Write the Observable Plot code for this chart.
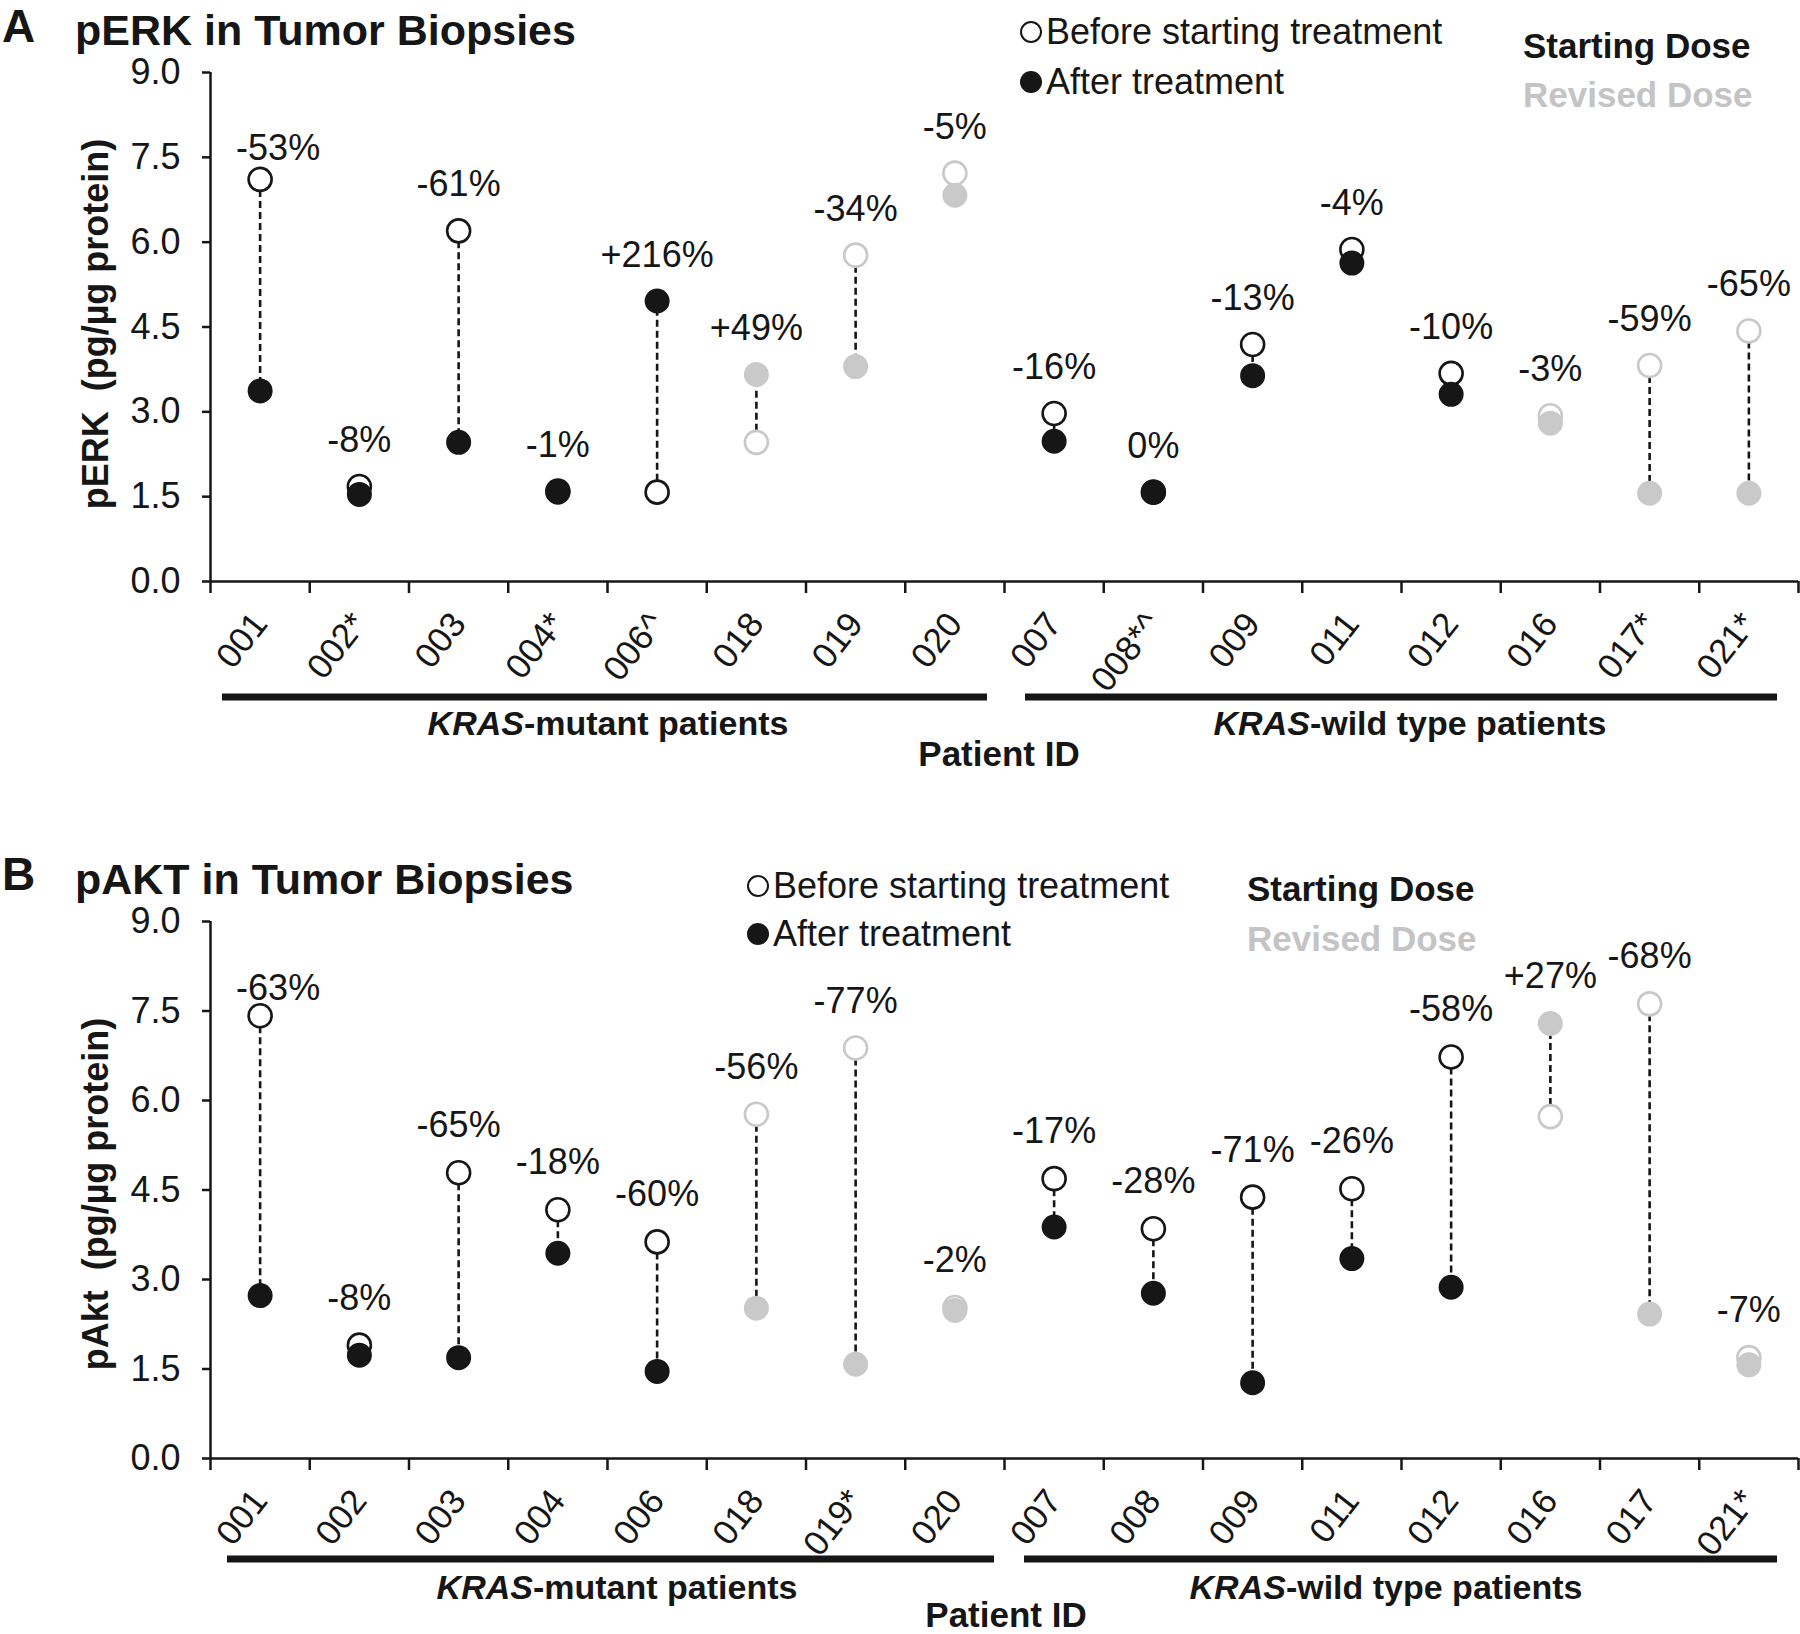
<!DOCTYPE html>
<html>
<head>
<meta charset="utf-8">
<script src="https://cdn.jsdelivr.net/npm/d3@7"></script>
<script src="https://cdn.jsdelivr.net/npm/@observablehq/plot@0.6"></script>
<style>
  html, body { margin: 0; padding: 0; background: #fff; }
  #root { width: 1800px; height: 1634px; overflow: hidden; background: #fff; }
  #root svg { display: block; }
</style>
</head>
<body>
<div id="root"></div>
<script>
// ---------- data ----------
const yTicks = [0, 1.5, 3, 4.5, 6, 7.5, 9];

const erkIds = ["001","002*","003","004*","006^","018","019","020","007","008*^","009","011","012","016","017*","021*"];
const erkBefore = [7.11, 1.68, 6.20, 1.60, 1.58, 2.46, 5.77, 7.22, 2.97, 1.58, 4.19, 5.87, 3.68, 2.93, 3.82, 4.43];
const erkAfter  = [3.37, 1.54, 2.46, 1.58, 4.96, 3.66, 3.80, 6.83, 2.48, 1.58, 3.64, 5.63, 3.31, 2.80, 1.56, 1.56];
const erkLabels = ["-53%","-8%","-61%","-1%","+216%","+49%","-34%","-5%","-16%","0%","-13%","-4%","-10%","-3%","-59%","-65%"];
const erkDose   = ["Starting","Starting","Starting","Starting","Starting","Revised","Revised","Revised","Starting","Starting","Starting","Starting","Starting","Revised","Revised","Revised"];

const aktIds = ["001","002","003","004","006","018","019*","020","007","008","009","011","012","016","017","021*"];
const aktBefore = [7.42, 1.90, 4.79, 4.17, 3.63, 5.77, 6.88, 2.53, 4.69, 3.85, 4.38, 4.52, 6.73, 5.73, 7.62, 1.69];
const aktAfter  = [2.73, 1.73, 1.69, 3.44, 1.46, 2.52, 1.58, 2.48, 3.88, 2.77, 1.27, 3.35, 2.87, 7.29, 2.42, 1.57];
const aktLabels = ["-63%","-8%","-65%","-18%","-60%","-56%","-77%","-2%","-17%","-28%","-71%","-26%","-58%","+27%","-68%","-7%"];
const aktDose   = ["Starting","Starting","Starting","Starting","Starting","Revised","Revised","Revised","Starting","Starting","Starting","Starting","Starting","Revised","Revised","Revised"];

const groups = ["KRAS|-mutant patients", "KRAS|-wild type patients"];
const groupSpans = [[0, 8], [8, 16]];

// ---------- style ----------
const FONT = "'Liberation Sans', Arial, Helvetica, sans-serif";
const BLACK = "#161616";
const GRAY = "#c9c9c9";
const LEGEND_GRAY = "#c4c4c4";

function panel(o) {
  const rows = o.ids.map((id, i) => ({
    xc: i + 0.5, id,
    before: o.before[i], after: o.after[i],
    top: Math.max(o.before[i], o.after[i]),
    label: o.labels[i],
    color: o.dose[i] === "Starting" ? BLACK : GRAY
  }));
  const W = 1800, ML = 210, MR = 2;
  const plot = Plot.plot({
    width: W, height: o.height,
    marginLeft: ML, marginRight: MR, marginTop: o.mt, marginBottom: o.mb,
    x: {domain: [0, 16]},
    y: {domain: [0, 9]},
    color: {type: "identity"},
    style: {fontFamily: FONT, fontSize: "35px", color: BLACK, background: "#fff", overflow: "visible"},
    marks: [
      Plot.axisY({ticks: yTicks, tickFormat: d => d.toFixed(1), tickSize: 8, tickPadding: 22, strokeWidth: 2.5, fontSize: 36, label: null}),
      Plot.axisX({ticks: d3.range(17), tickSize: 12, tickFormat: () => "", strokeWidth: 2.5, label: null}),
      Plot.axisX({ticks: rows.map(r => r.xc), tickSize: 0, tickPadding: 36, tickRotate: -52,
                  tickFormat: v => o.ids[Math.floor(v)], fontSize: 35, label: null}),
      Plot.ruleX([0], {stroke: BLACK, strokeWidth: 2.5}),
      Plot.ruleY([0], {stroke: BLACK, strokeWidth: 2.5}),
      Plot.ruleX(rows, {x: "xc", y1: "before", y2: "after", stroke: BLACK, strokeWidth: 2.6, strokeDasharray: "7,4"}),
      Plot.dot(rows, {x: "xc", y: "before", r: 11.5, fill: "#fff", stroke: "color", strokeWidth: 2.6}),
      Plot.dot(rows, {x: "xc", y: "after", r: 11.5, fill: "color", stroke: "color", strokeWidth: 2}),
      // first label sits beside the y axis, slightly right and lower
      Plot.text(rows.slice(0, 1), {x: "xc", y: "top", text: "label", dx: 18, dy: o.firstDy, fontSize: 36, fill: BLACK}),
      Plot.text(rows.slice(1), {x: "xc", y: "top", text: "label", dy: o.labelDy, fontSize: 36, fill: BLACK})
    ]
  });

  const xs = v => ML + v * (W - ML - MR) / 16;
  const svg = d3.select(plot);
  const t = (x, y, txt, opts = {}) => {
    const el = svg.append("text").attr("x", x).attr("y", y)
      .attr("font-size", opts.size || 35)
      .attr("font-weight", opts.bold ? "bold" : "normal")
      .attr("fill", opts.fill || BLACK)
      .attr("text-anchor", opts.anchor || "start")
      .text(txt);
    return el;
  };
  // panel letter and title
  t(2, o.letterY, o.letter, {size: 46, bold: true});
  t(75, o.titleY, o.title, {size: 43, bold: true});
  // y label
  svg.append("text")
    .attr("transform", `translate(${o.ylabX},${o.ylabY}) rotate(-90)`)
    .attr("text-anchor", "middle").attr("font-size", 36).attr("font-weight", "bold").attr("fill", BLACK)
    .attr("xml:space", "preserve")
    .text(o.ylabel);
  // legend
  svg.append("circle").attr("cx", o.legX).attr("cy", o.legY1 - 12).attr("r", 10)
    .attr("fill", "#fff").attr("stroke", BLACK).attr("stroke-width", 2);
  t(o.legX + 15, o.legY1, "Before starting treatment", {size: 36});
  svg.append("circle").attr("cx", o.legX).attr("cy", o.legY2 - 12).attr("r", 11).attr("fill", BLACK);
  t(o.legX + 15, o.legY2, "After treatment", {size: 36});
  t(o.doseX, o.doseY1, "Starting Dose", {size: 35, bold: true});
  t(o.doseX, o.doseY2, "Revised Dose", {size: 35, bold: true, fill: LEGEND_GRAY});
  // group bars and labels
  groupSpans.forEach(([a, b], k) => {
    const x1 = xs(a) + o.barInset[k][0], x2 = xs(b) - o.barInset[k][1];
    svg.append("line").attr("x1", x1).attr("x2", x2).attr("y1", o.barY).attr("y2", o.barY)
      .attr("stroke", BLACK).attr("stroke-width", 7);
    const [it, rest] = groups[k].split("|");
    const g = svg.append("text").attr("x", o.groupX[k]).attr("y", o.groupY)
      .attr("text-anchor", "middle").attr("font-size", 34).attr("font-weight", "bold").attr("fill", BLACK);
    g.append("tspan").attr("font-style", "italic").text(it);
    g.append("tspan").text(rest);
  });
  t(o.pidX, o.pidY, "Patient ID", {size: 35, bold: true, anchor: "middle"});
  return plot;
}

const root = document.getElementById("root");
root.appendChild(panel({
  ids: erkIds, before: erkBefore, after: erkAfter, labels: erkLabels, dose: erkDose,
  height: 800, mt: 72, mb: 219, labelDy: -46, firstDy: -31,
  letter: "A", letterY: 42, title: "pERK in Tumor Biopsies", titleY: 45,
  ylabel: "pERK  (pg/µg protein)", ylabX: 108, ylabY: 324,
  legX: 1031, legY1: 44, legY2: 94, doseX: 1523, doseY1: 58, doseY2: 107,
  barY: 697, barInset: [[12, 17], [21, 21]], groupX: [608, 1410], groupY: 735,
  pidX: 999, pidY: 766
}));
root.appendChild(panel({
  ids: aktIds, before: aktBefore, after: aktAfter, labels: aktLabels, dose: aktDose,
  height: 834, mt: 121, mb: 176, labelDy: -47, firstDy: -27,
  letter: "B", letterY: 90, title: "pAKT in Tumor Biopsies", titleY: 94,
  ylabel: "pAkt  (pg/µg protein)", ylabX: 108, ylabY: 394,
  legX: 758, legY1: 98, legY2: 146, doseX: 1247, doseY1: 101, doseY2: 151,
  barY: 759, barInset: [[17, 10], [20, 21]], groupX: [617, 1386], groupY: 799,
  pidX: 1006, pidY: 827
}));
</script>
</body>
</html>
